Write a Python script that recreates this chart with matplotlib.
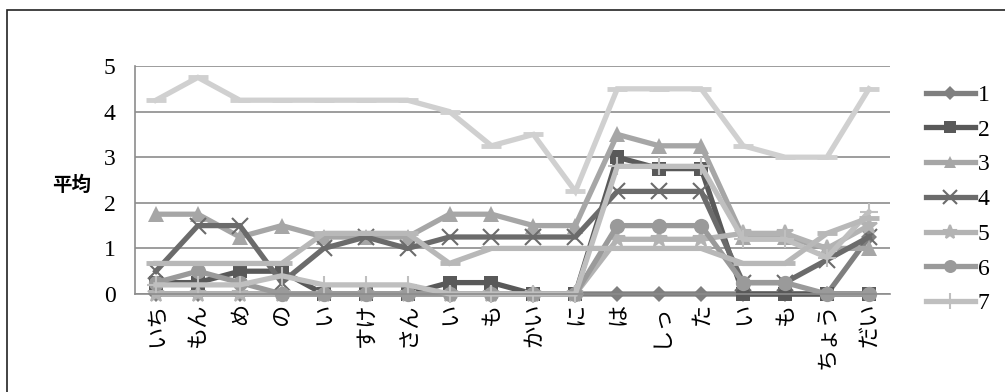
import matplotlib
matplotlib.use("Agg")
import matplotlib.pyplot as plt

cats = ['いち', 'もん', 'め', 'の', 'い', 'すけ', 'さん', 'い', 'も', 'かい',
        'に', 'は', 'しっ', 'た', 'い', 'も', 'ちょう', 'だい']

s1 = [0, 0, 0, 0, 0, 0, 0, 0, 0, 0, 0, 0, 0, 0, 0, 0, 0, 1.25]
s2 = [0.25, 0.25, 0.5, 0.5, 0, 0, 0, 0.25, 0.25, 0, 0, 3.0, 2.75, 2.75, 0, 0, 0, 0]
s3 = [1.75, 1.75, 1.25, 1.5, 1.25, 1.25, 1.25, 1.75, 1.75, 1.5, 1.5, 3.5, 3.25, 3.25, 1.25, 1.25, 1.0, 1.0]
s4 = [0.5, 1.5, 1.5, 0.25, 1.0, 1.25, 1.0, 1.25, 1.25, 1.25, 1.25, 2.25, 2.25, 2.25, 0.25, 0.25, 0.75, 1.25]
s5 = [0, 0, 0, 0, 0, 0, 0, 0, 0, 0, 0, 1.2, 1.2, 1.2, 1.33, 1.33, 1.0, 1.5]
s6 = [0.25, 0.5, 0.25, 0, 0, 0, 0, 0, 0, 0, 0, 1.5, 1.5, 1.5, 0.25, 0.25, 0, 0]
s7 = [0.2, 0.2, 0.2, 0.4, 0.2, 0.2, 0.2, 0, 0, 0, 0, 2.8, 2.8, 2.8, 1.2, 1.2, 0.8, 1.8]
s8 = [4.25, 4.75, 4.25, 4.25, 4.25, 4.25, 4.25, 4.0, 3.25, 3.5, 2.25, 4.5, 4.5, 4.5, 3.25, 3.0, 3.0, 4.5]
s9 = [0.67, 0.67, 0.67, 0.67, 1.33, 1.33, 1.33, 0.67, 1.0, 1.0, 1.0, 1.0, 1.0, 1.0, 0.67, 0.67, 1.33, 1.67]

series = [s1, s2, s3, s4, s5, s6, s7, s8, s9]
names = ['1', '2', '3', '4', '5', '6', '7', '8', '9']
colors = ['#7f7f7f', '#595959', '#a6a6a6', '#6b6b6b', '#b3b3b3',
          '#9a9a9a', '#bfbfbf', '#d0d0d0', '#b8b8b8']
markers = ['D', 's', '^', 'x', '*', 'o', '+', '_', '_']
msizes = [8, 10, 11, 12, 12, 11, 13, 14, 14]

serif = ['Liberation Serif', 'DejaVu Serif']
jp = ['Noto Sans CJK JP', 'DejaVu Sans']

fig = plt.figure(figsize=(10.05, 3.92), dpi=100)
fig.patches.append(plt.Rectangle((0.007, -0.05), 1.2, 1.025, transform=fig.transFigure,
                                 fill=False, edgecolor='#222222', linewidth=1.2))
ax = fig.add_axes([0.1343, 0.25, 0.7512, 0.5816])

x = list(range(len(cats)))
handles = []
for ys, nm, c, m, ms in zip(series, names, colors, markers, msizes):
    mew = 1.5 if m in ('x', '+', '*') else 0
    if m == '_':
        mew = 3.5
    (h,) = ax.plot(x, ys, color=c, linewidth=3.8, marker=m, markersize=ms,
                   markeredgewidth=mew, markeredgecolor=c, markerfacecolor=c,
                   solid_joinstyle='miter', label=nm, clip_on=False)
    handles.append(h)

ax.set_xlim(-0.5, len(cats) - 0.5)
ax.set_ylim(0, 5)
ax.set_yticks([0, 1, 2, 3, 4, 5])
ax.yaxis.grid(True, color='#8c8c8c', linewidth=1.2)
ax.set_axisbelow(True)
for side in ('top', 'right'):
    ax.spines[side].set_visible(False)
ax.spines['left'].set_color('#8c8c8c')
ax.spines['left'].set_linewidth(1.2)
ax.spines['bottom'].set_color('#8c8c8c')
ax.spines['bottom'].set_linewidth(1.2)
ax.tick_params(axis='y', length=0, pad=14)
ax.tick_params(axis='x', length=0, pad=6)
ax.set_xticks(x)
ax.set_xticklabels(cats, rotation=90, family=jp, fontsize=16, va='top')
for lab in ax.get_yticklabels():
    lab.set_family(serif)
    lab.set_fontsize(17)

fig.text(0.071, 0.527, '平均', family=jp, fontsize=14, fontweight='bold',
         ha='center', va='center')

# only the first seven entries fit in the legend column
leg = fig.legend(handles=handles[:7], labels=names[:7], loc='upper left',
                 bbox_to_anchor=(0.921, 0.785), frameon=False, handlelength=2.1,
                 handletextpad=0.1, labelspacing=0.56, borderpad=0, borderaxespad=0,
                 prop={'family': serif, 'size': 17})
for lh in leg.legend_handles:
    lh.set_markersize(lh.get_markersize() * 0.85)

fig.savefig('out.png', dpi=100)
